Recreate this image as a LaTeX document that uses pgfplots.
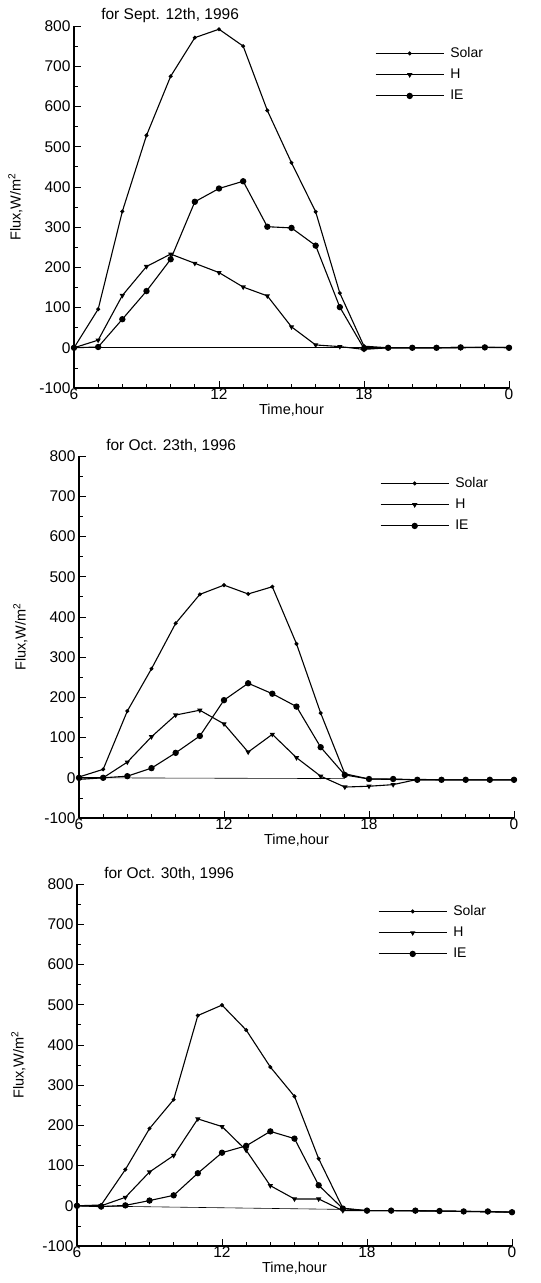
\documentclass[border=0pt]{standalone}
\usepackage{fontspec}
\setmainfont{Liberation Sans}
\usepackage{pgfplots}
\pgfplotsset{compat=1.18}
\tikzset{ttl/.style={anchor=south west, font=\fontsize{15.5}{17}\selectfont, inner sep=1pt, yshift=2pt}}
\pgfplotsset{
  panel/.style={
    width=435pt, height=362pt, scale only axis, clip=false,
    xmin=6, xmax=24, ymin=-100, ymax=800,
    axis x line*=bottom, axis y line*=left,
    axis line style={black, line width=1.2pt},
    xtick={6,12,18,24}, xticklabels={6,12,18,0},
    minor xtick={7,8,9,10,11,13,14,15,16,17,19,20,21,22,23},
    ytick={-100,0,100,200,300,400,500,600,700,800},
    minor ytick={-50,50,150,250,350,450,550,650,750},
    tick align=inside, major tick length=7pt, minor tick length=4pt,
    tick style={black, line width=0.7pt},
    /pgf/number format/assume math mode=true,
    tick label style={font=\fontsize{15.5}{17}\selectfont},
    label style={font=\fontsize{14.5}{17}\selectfont},
    xticklabel style={yshift=3pt},
    xlabel={Time,hour}, ylabel={Flux,W/m\textsuperscript{2}},
    xlabel style={yshift=2pt},
    ylabel style={yshift=10pt},
    legend style={at={(rel axis cs:0.685,0.952)}, anchor=north west, draw=none, fill=none,
      font=\fontsize{14}{16}\selectfont, row sep=6pt,
      /tikz/every odd column/.append style={column sep=4pt}},
    legend cell align=left,
    legend image code/.code={\draw[mark repeat=2,mark phase=2,#1] plot coordinates {(0pt,0pt)(34pt,0pt)(68pt,0pt)};},
  },
  solar/.style={black, line width=1.1pt, mark=*, mark size=1.4pt},
  hh/.style={black, line width=1.1pt, mark=triangle*, mark size=2pt, mark options={rotate=180}},
  ie/.style={black, line width=1.1pt, mark=*, mark size=2.6pt},
  zl/.style={black, line width=0.6pt, forget plot},
}
\begin{document}
\begin{tikzpicture}
\useasboundingbox (0pt,0pt) rectangle (541pt,-1283pt);
% Panel 1
\begin{axis}[panel, at={(74pt,-388pt)}, anchor=south west]
\addplot[zl] coordinates {(6,0) (24,0)};
\addplot[solar] coordinates {(6,0) (7,96) (8,339) (9,528) (10,675) (11,771) (12,792) (13,750) (14,590) (15,460) (16,338) (17,136) (18,4) (19,0) (20,0) (21,0) (22,1) (23,1) (24,1)};
\addplot[hh] coordinates {(6,0) (7,19) (8,130) (9,202) (10,233) (11,210) (12,187) (13,151) (14,129) (15,52) (16,7) (17,3) (18,-4) (19,0) (20,0) (21,0) (22,0) (23,1) (24,1)};
\addplot[ie] coordinates {(6,0) (7,2) (8,71) (9,141) (10,220) (11,363) (12,396) (13,414) (14,301) (15,298) (16,254) (17,101) (18,-2) (19,0) (20,0) (21,0) (22,1) (23,1) (24,0)};
\legend{Solar,H,IE}
\node[ttl] at (rel axis cs:0.06,1.0) {for Sept. 12th, 1996};
\end{axis}
% Panel 2
\begin{axis}[panel, at={(79pt,-818pt)}, anchor=south west]
\addplot[zl] coordinates {(6,0) (17,-2)};
\addplot[solar] coordinates {(6,2) (7,21) (8,166) (9,271) (10,384) (11,456) (12,479) (13,457) (14,475) (15,333) (16,161) (17,10) (18,-3) (19,-4) (20,-5) (21,-5) (22,-5) (23,-5) (24,-5)};
\addplot[hh] coordinates {(6,-4) (7,0) (8,39) (9,102) (10,156) (11,168) (12,134) (13,64) (14,108) (15,50) (16,4) (17,-23) (18,-21) (19,-17) (20,-4) (21,-5) (22,-5) (23,-5) (24,-5)};
\addplot[ie] coordinates {(6,0) (7,0) (8,4) (9,24) (10,62) (11,104) (12,193) (13,235) (14,209) (15,177) (16,76) (17,7) (18,-3) (19,-3) (20,-5) (21,-5) (22,-5) (23,-5) (24,-5)};
\legend{Solar,H,IE}
\node[ttl] at (rel axis cs:0.06,1.0) {for Oct. 23th, 1996};
\end{axis}
% Panel 3
\begin{axis}[panel, at={(77pt,-1246pt)}, anchor=south west]
\addplot[zl] coordinates {(6,0) (17,-9)};
\addplot[solar] coordinates {(6,0) (7,2) (8,90) (9,192) (10,264) (11,473) (12,499) (13,437) (14,345) (15,272) (16,117) (17,-6) (18,-12) (19,-12) (20,-12) (21,-13) (22,-14) (23,-15) (24,-16)};
\addplot[hh] coordinates {(6,0) (7,0) (8,21) (9,84) (10,125) (11,216) (12,197) (13,138) (14,50) (15,17) (16,17) (17,-12) (18,-12) (19,-12) (20,-13) (21,-13) (22,-14) (23,-15) (24,-15)};
\addplot[ie] coordinates {(6,0) (7,-2) (8,1) (9,13) (10,26) (11,81) (12,132) (13,149) (14,185) (15,167) (16,51) (17,-7) (18,-12) (19,-12) (20,-12) (21,-13) (22,-14) (23,-14) (24,-16)};
\legend{Solar,H,IE}
\node[ttl] at (rel axis cs:0.06,1.0) {for Oct. 30th, 1996};
\end{axis}
\end{tikzpicture}
\end{document}
